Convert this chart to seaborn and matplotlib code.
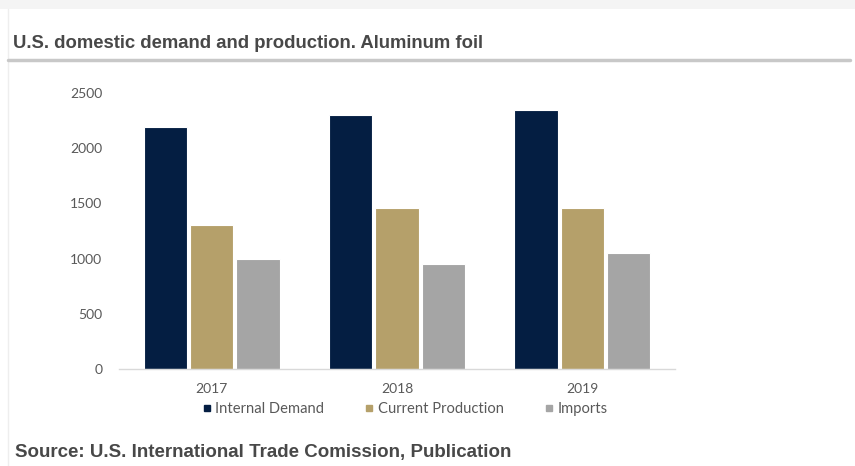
import matplotlib
matplotlib.use("Agg")
import matplotlib.pyplot as plt
from matplotlib.lines import Line2D
from matplotlib.patches import Rectangle
import seaborn as sns
import pandas as pd

years = ["2017", "2018", "2019"]
series = ["Internal Demand", "Current Production", "Imports"]
internal_demand = [2190, 2300, 2350]
current_production = [1300, 1455, 1455]
imports = [995, 950, 1055]
colors = ["#041E42", "#B5A06A", "#A5A5A5"]
y_ticks = [0, 500, 1000, 1500, 2000, 2500]

df = pd.DataFrame({
    "Year": years * 3,
    "Series": [s for s in series for _ in years],
    "Value": internal_demand + current_production + imports,
})

sns.set_theme(style="white")
plt.rcParams["font.family"] = ["Lato", "DejaVu Sans"]

W, H = 855, 466
fig = plt.figure(figsize=(W / 100, H / 100), dpi=100)
ax = fig.add_axes([119 / W, 1 - 369 / H, (675 - 119) / W, (369 - 93) / H])

sns.barplot(data=df, x="Year", y="Value", hue="Series", hue_order=series,
            palette=colors, width=0.75, gap=0.07, edgecolor="white",
            linewidth=0.8, saturation=1, legend=False, ax=ax)

ax.set_ylim(0, 2500)
ax.set_yticks(y_ticks)
ax.set_xlabel("")
ax.set_ylabel("")
for s in ["top", "right", "left"]:
    ax.spines[s].set_visible(False)
ax.spines["bottom"].set_color("#D9D9D9")
ax.spines["bottom"].set_linewidth(1.0)
ax.tick_params(axis="y", length=0, pad=12, labelsize=10, labelcolor="#595959")
ax.tick_params(axis="x", length=0, pad=10, labelsize=10, labelcolor="#595959")

# legend with small square swatches
handles = [Line2D([], [], marker="s", linestyle="", markersize=5,
                  markerfacecolor=c, markeredgecolor=c) for c in colors]
fig.legend(handles, series, loc="center", bbox_to_anchor=(404 / W, 1 - 409 / H),
           ncol=3, frameon=False, fontsize=10.6, handletextpad=0.15,
           columnspacing=2.6, handlelength=0.9, labelcolor="#595959",
           borderpad=0, borderaxespad=0)

# frame, title and source
fig.patches.append(Rectangle((0, 1 - 9 / H), 1, 9 / H, transform=fig.transFigure,
                             facecolor="#F4F4F4", edgecolor="none", zorder=0))
fig.lines.append(Line2D([8 / W, 8 / W], [0, 1 - 9 / H], transform=fig.transFigure,
                        color="#EEEEEE", linewidth=1))
fig.lines.append(Line2D([8 / W, 850 / W], [1 - 60 / H, 1 - 60 / H],
                        transform=fig.transFigure, color="#C8C8C8", linewidth=2.5))
fig.text(13 / W, 1 - 43 / H, "U.S. domestic demand and production. Aluminum foil",
         family=["Liberation Sans", "DejaVu Sans"], fontweight="bold",
         fontsize=13.3, color="#484848", va="center", ha="left")
fig.text(15 / W, 1 - 453 / H, "Source: U.S. International Trade Comission, Publication",
         family=["Liberation Sans", "DejaVu Sans"], fontweight="bold",
         fontsize=13.5, color="#484848", va="center", ha="left")

fig.savefig("out.png", dpi=100)
